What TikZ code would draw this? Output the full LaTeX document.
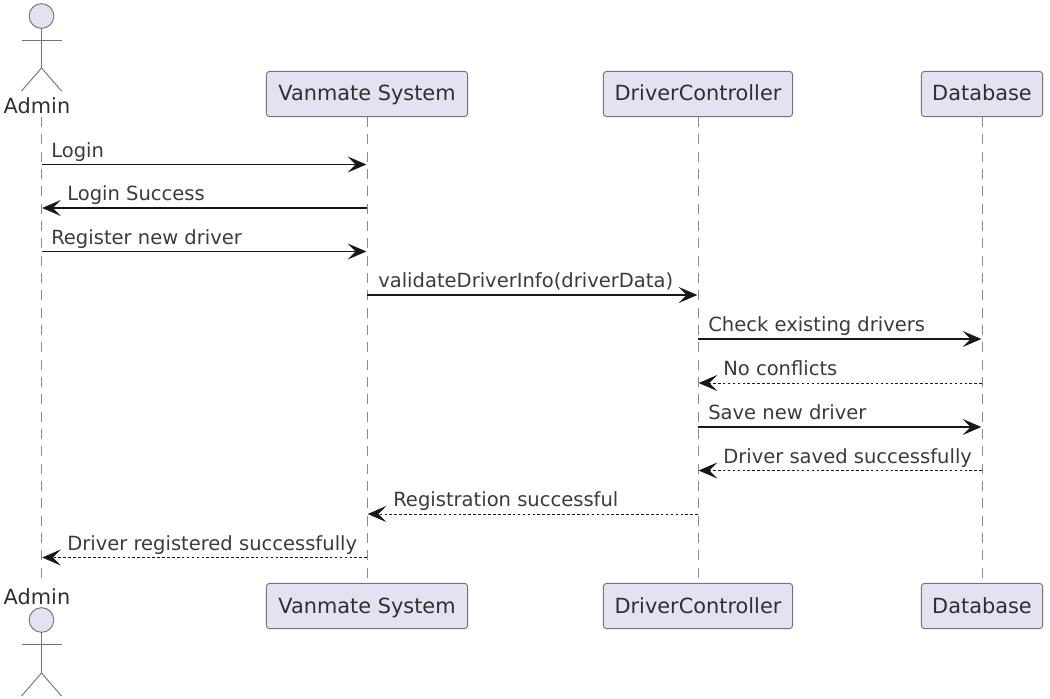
\documentclass[tikz,border=0pt]{standalone}
\usepackage{fontspec}
\setmainfont{DejaVu Sans}
\usetikzlibrary{arrows.meta, positioning}
\definecolor{boxfill}{HTML}{E2E2F0}
\definecolor{inkline}{HTML}{181818}
\tikzset{
>={Stealth[length=14pt, width=12pt, inset=6pt]}, % open looking arrow heads
participant/.style={draw=inkline!60, fill=boxfill, rounded corners=2.5pt, line width=0.7pt, font=\fontsize{15.65}{18}\selectfont, text=inkline!90, minimum height=34pt, text height=13.5pt, text depth=3pt}, % boxes at both ends of a lifeline
lifeline/.style={draw=inkline!50, line width=0.6pt, dash pattern=on 7.5pt off 5.5pt}, % vertical dashed lines
call/.style={->, draw=inkline, line width=0.85pt, shorten >=0.5pt}, % solid messages
reply/.style={->, draw=inkline, line width=0.75pt, dash pattern=on 2pt off 1.7pt, shorten >=0.5pt}, % dashed messages
msg/.style={anchor=base west, inner sep=0pt, font=\fontsize{14.65}{17}\selectfont, text=inkline!85}, % message labels
actorname/.style={inner sep=0pt, font=\fontsize{15.65}{18}\selectfont, text=inkline!90},
actorhead/.style={circle, draw=inkline!60, fill=boxfill, line width=0.7pt, minimum size=18.5pt, inner sep=0pt},
actorbody/.style={draw=inkline!60, line width=0.7pt},
}

\begin{document}
\begin{tikzpicture}[x=0.75pt, y=-0.75pt]
    \useasboundingbox (0,0) rectangle (1050,699);

    % top row
    \node[actorhead] (headT) at (41.5,16) {};
    \node[actorname] (adminT) at (37,105.5) {Admin};
    \node[participant, minimum width=151pt] (systemT) at (367,94) {Vanmate System};
    \node[participant, minimum width=142pt] (controlT) at (698,94) {DriverController};
    \node[participant, minimum width=91pt] (dataT) at (982,94) {Database};

    % bottom row
    \node[actorname] (adminB) at (37,596.5) {Admin};
    \node[actorhead] (headB) at (41.5,620) {};
    \node[participant, minimum width=151pt] (systemB) at (367,606) {Vanmate System};
    \node[participant, minimum width=142pt] (controlB) at (698,606) {DriverController};
    \node[participant, minimum width=91pt] (dataB) at (982,606) {Database};

    % stick figures
    \coordinate (armsT) at (41.5,40);
    \coordinate (hipT) at (41.5,68);
    \coordinate (armsB) at (41.5,644.5);
    \coordinate (hipB) at (41.5,673);
    \draw[actorbody] (headT) -- (hipT) -- ++(-20,23);
    \draw[actorbody] (hipT) -- ++(20,23);
    \draw[actorbody] ([xshift=-15pt]armsT) -- ([xshift=15pt]armsT);
    \draw[actorbody] (headB) -- (hipB) -- ++(-20,23);
    \draw[actorbody] (hipB) -- ++(20,23);
    \draw[actorbody] ([xshift=-15pt]armsB) -- ([xshift=15pt]armsB);

    % lifelines
    \coordinate (lifeT) at (41.5,117);
    \coordinate (lifeB) at (41.5,584);
    \draw[lifeline] (lifeT) -- (lifeB);
    \draw[lifeline] (systemT) -- (systemB);
    \draw[lifeline] (controlT) -- (controlB);
    \draw[lifeline] (dataT) -- (dataB);

    % rows of the messages
    \coordinate (m1) at (0,164.5);
    \coordinate (m2) at (0,208);
    \coordinate (m3) at (0,251.5);
    \coordinate (m4) at (0,295);
    \coordinate (m5) at (0,339);
    \coordinate (m6) at (0,383);
    \coordinate (m7) at (0,427);
    \coordinate (m8) at (0,470.5);
    \coordinate (m9) at (0,514);
    \coordinate (m10) at (0,557.5);

    \draw[call] (lifeT |- m1) -- (systemT |- m1);
    \draw[call] (systemT |- m2) -- (lifeT |- m2);
    \draw[call] (lifeT |- m3) -- (systemT |- m3);
    \draw[call] (systemT |- m4) -- (controlT |- m4);
    \draw[call] (controlT |- m5) -- (dataT |- m5);
    \draw[reply] (dataT |- m6) -- (controlT |- m6);
    \draw[call] (controlT |- m7) -- (dataT |- m7);
    \draw[reply] (dataT |- m8) -- (controlT |- m8);
    \draw[reply] (controlT |- m9) -- (systemT |- m9);
    \draw[reply] (systemT |- m10) -- (lifeT |- m10);

    \node[msg] (l1) at (51,157) {Login};
    \node[msg] (l2) at (67,200) {Login Success};
    \node[msg] (l3) at (51,244) {Register new driver};
    \node[msg] (l4) at (378,287.5) {validateDriverInfo(driverData)};
    \node[msg] (l5) at (708,331.5) {Check existing drivers};
    \node[msg] (l6) at (723,375) {No conflicts};
    \node[msg] (l7) at (708,419) {Save new driver};
    \node[msg] (l8) at (723,463) {Driver saved successfully};
    \node[msg] (l9) at (393,506) {Registration successful};
    \node[msg] (l10) at (67,550) {Driver registered successfully};
\end{tikzpicture}
\end{document}
